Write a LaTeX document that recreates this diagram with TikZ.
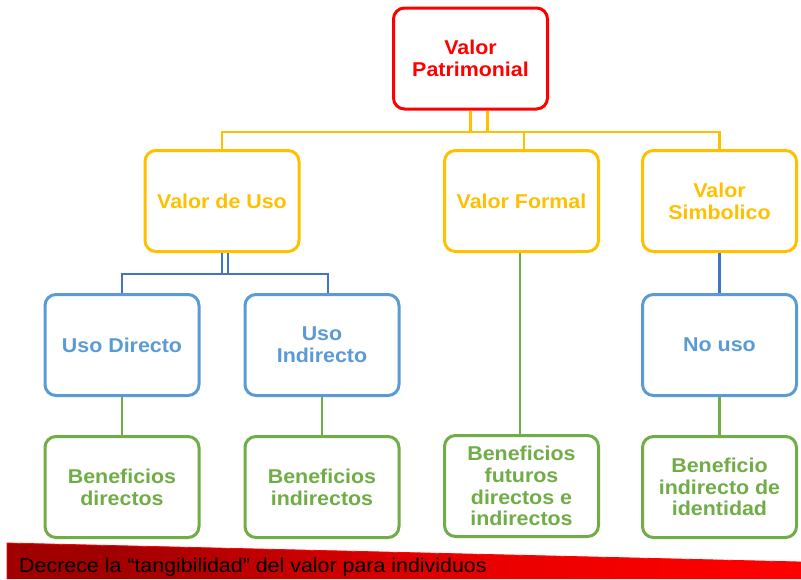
\documentclass[tikz,border=0pt]{standalone}
\usepackage{fontspec}
\setmainfont[FakeStretch=1.07]{Liberation Sans}
\definecolor{cred}{RGB}{255,0,0}
\definecolor{cyel}{RGB}{255,192,0}
\definecolor{cblu}{RGB}{91,155,213}
\definecolor{cbld}{RGB}{68,114,196}
\definecolor{cgrn}{RGB}{112,173,71}
\definecolor{dkred}{RGB}{160,0,0}
\definecolor{mdred}{RGB}{205,0,0}
\definecolor{brred}{RGB}{235,0,0}
\pgfdeclarehorizontalshading{wedgeshade}{100bp}{color(0bp)=(dkred); color(25bp)=(dkred); color(31bp)=(dkred); color(45bp)=(mdred); color(56bp)=(brred); color(75bp)=(cred); color(100bp)=(cred)}
\tikzset{
  box/.style={draw, line width=3pt, rounded corners=11pt, minimum width=154pt, minimum height=101pt, align=center, inner sep=0pt, font=\bfseries\fontsize{20}{21.7}\selectfont},
  redbox/.style={box, draw=cred, text=cred},
  yelbox/.style={box, draw=cyel, text=cyel},
  blubox/.style={box, draw=cblu, text=cblu},
  grnbox/.style={box, draw=cgrn, text=cgrn},
  yline/.style={draw=cyel, line width=2.2pt},
  bline/.style={draw=cbld, line width=2.2pt},
  gline/.style={draw=cgrn, line width=2.2pt}
}
\begin{document}
\begin{tikzpicture}[x=1pt,y=-1pt]
\useasboundingbox (0,0) rectangle (801,579);
\fill[white] (0,0) rectangle (801,579);
% boxes
\node[redbox] (vp) at (470.5,58.5) {Valor\\Patrimonial};
\node[yelbox] (vdu) at (222,201) {Valor de Uso};
\node[yelbox] (vf) at (521.5,201) {Valor Formal};
\node[yelbox] (vs) at (719.5,201) {Valor\\Simbolico};
\node[blubox] (ud) at (122,345) {Uso Directo};
\node[blubox] (ui) at (322,345) {Uso\\Indirecto};
\node[blubox] (nu) at (719.5,345) {No uso};
\node[grnbox] (bd) at (122,487) {Beneficios\\directos};
\node[grnbox] (bi) at (322,487) {Beneficios\\indirectos};
\node[grnbox] (bf) at (521.5,486) {Beneficios\\futuros\\directos e\\indirectos};
\node[grnbox] (bid) at (719.5,487) {Beneficio\\indirecto de\\identidad};
% yellow connectors
\coordinate (ybar) at (0,132);
\draw[yline] (vp.south) -- (vp.south |- ybar);
\draw[yline] ([xshift=17pt]vp.south) -- ([xshift=17pt]vp.south |- ybar);
\draw[yline] (vdu.north) |- (vs.north |- ybar) -- (vs.north);
\draw[yline] ([xshift=2.5pt]vf.north) -- ([xshift=2.5pt]vf.north |- ybar);
% blue connectors
\coordinate (bbar) at (0,274);
\draw[bline] (vdu.south) -- (vdu.south |- bbar);
\draw[bline] ([xshift=6pt]vdu.south) -- ([xshift=6pt]vdu.south |- bbar);
\draw[bline] (ud.north) |- ([xshift=6pt]ui.north |- bbar) -- ([xshift=6pt]ui.north);
\draw[bline] (vs.south) -- (nu.north);
% green connectors
\draw[gline] (ud.south) -- (bd.north);
\draw[gline] (ui.south) -- (bi.north);
\draw[gline] ([xshift=-1.5pt]vf.south) -- ([xshift=-1.5pt]bf.north);
\draw[gline] (nu.south) -- (bid.north);
% wedge
\shade[shading=wedgeshade] (7,543) -- (801,562) -- (801,579) -- (7,579) -- cycle;
\draw[cred, line width=0.8pt] (7,579) -- (7,543) -- (801,562);
\node[anchor=base west, inner sep=0pt, font=\fontsize{20}{24}\selectfont] (wtext) at (19,572) {Decrece la “tangibilidad” del valor para individuos};
\end{tikzpicture}
\end{document}
